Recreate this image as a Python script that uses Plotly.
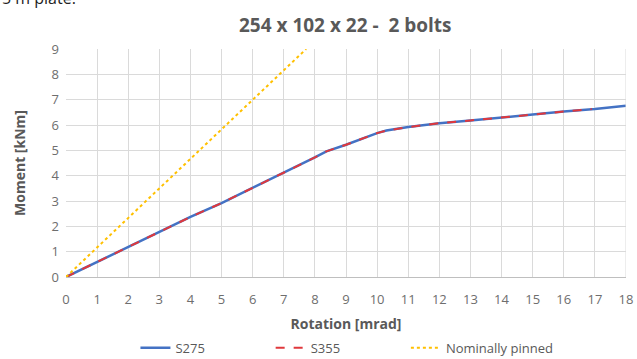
import plotly.graph_objects as go

rot_s275 = [0, 1, 2, 2.2, 3, 4, 5, 6, 7, 7.5, 8, 8.37, 9, 10, 10.3, 11, 12, 13, 14, 15, 16, 17, 18]
mom_s275 = [0, 0.6, 1.2, 1.3, 1.78, 2.37, 2.92, 3.52, 4.1, 4.42, 4.72, 4.96, 5.22, 5.68, 5.78, 5.92, 6.07, 6.18, 6.31, 6.41, 6.53, 6.63, 6.76]
rot_s355 = [0, 1, 2, 2.2, 3, 4, 5, 6, 7, 7.5, 8, 8.37, 9, 10, 10.3, 11, 12, 13, 14, 15, 16, 16.9]
mom_s355 = [0, 0.6, 1.2, 1.3, 1.78, 2.37, 2.92, 3.52, 4.1, 4.42, 4.72, 4.96, 5.22, 5.68, 5.78, 5.92, 6.07, 6.18, 6.31, 6.41, 6.53, 6.63]
rot_pinned = [0, 7.72]
mom_pinned = [0, 9]

x_ticks = list(range(0, 19))
y_ticks = list(range(0, 10))

grey = "#595959"
tick_grey = "#6E6E6E"
font = "Open Sans, Liberation Sans, sans-serif"
pad = "\u00a0" * 18

fig = go.Figure()
fig.add_trace(go.Scatter(x=rot_s275, y=mom_s275, mode="lines", name="S275" + pad,
                         line=dict(color="#4472C4", width=2.5)))
fig.add_trace(go.Scatter(x=rot_s355, y=mom_s355, mode="lines", name="S355" + pad,
                         line=dict(color="#E0383C", width=2, dash="dash")))
fig.add_trace(go.Scatter(x=rot_pinned, y=mom_pinned, mode="lines", name="Nominally pinned",
                         line=dict(color="#FFC000", width=2, dash="dot")))

fig.update_layout(
    width=637, height=359,
    margin=dict(l=66, r=11, t=49, b=82, autoexpand=False),
    paper_bgcolor="white", plot_bgcolor="white",
    font=dict(family=font, color=grey, size=12),
    title=dict(text="<b>254 x 102 x 22 -  2 bolts</b>", x=0.542, xanchor="center",
               y=0.928, yanchor="middle", font=dict(size=19, color=grey, family=font)),
    showlegend=True,
    legend=dict(orientation="h", x=0.124, xanchor="left", y=-0.31, yanchor="middle",
                font=dict(size=13, color=grey), traceorder="normal"),
    xaxis=dict(range=[0, 18], tickvals=x_ticks, showgrid=True, gridcolor="#DADADA",
               zeroline=False, showline=True, linecolor="#BFBFBF", ticks="",
               ticklabelstandoff=10,
               tickfont=dict(size=13, color=tick_grey),
               title=dict(text="<b>Rotation [mrad]</b>", font=dict(size=14, color=grey), standoff=12)),
    yaxis=dict(range=[0, 9], tickvals=y_ticks, showgrid=True, gridcolor="#DADADA",
               zeroline=False, showline=False, ticks="",
               ticklabelstandoff=6,
               tickfont=dict(size=13, color=tick_grey),
               title=dict(text="<b>Moment [kNm]</b>", font=dict(size=14, color=grey), standoff=22)),
)
fig.add_shape(type="line", xref="x", yref="y", x0=18, x1=18, y0=0, y1=9,
              line=dict(color="#DADADA", width=1))
fig.add_annotation(text="5 m plate.", xref="paper", yref="paper", x=-0.118, y=1.165,
                   xanchor="left", yanchor="bottom", showarrow=False,
                   font=dict(size=16, color="#222222", family=font))

fig.write_html("out.html")
